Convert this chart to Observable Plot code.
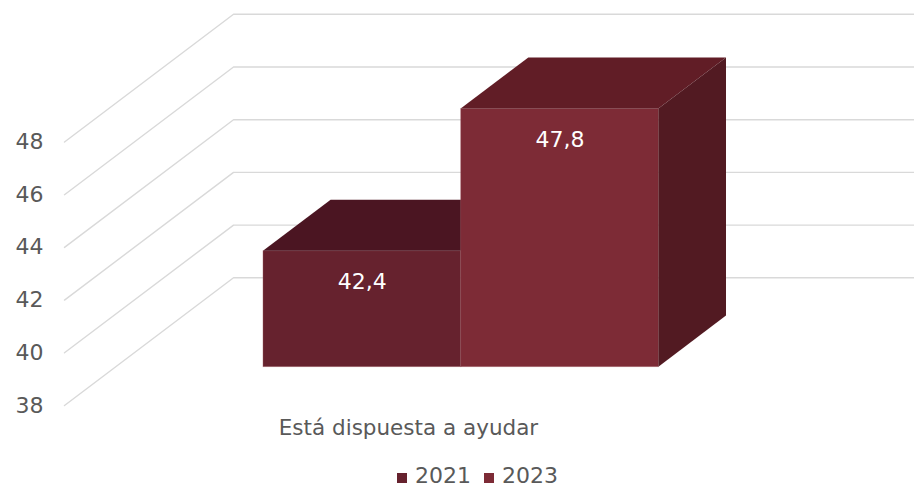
<!DOCTYPE html>
<html><head><meta charset="utf-8">
<script src="https://cdn.jsdelivr.net/npm/d3@7"></script>
<script src="https://cdn.jsdelivr.net/npm/@observablehq/plot@0.6"></script>
<style>
html,body{margin:0;padding:0;background:#fff;overflow:hidden;width:914px;height:489px;position:relative}
#legend{position:absolute;top:463px;left:397px;display:flex;font:22px "DejaVu Sans";color:#595959;line-height:25px;white-space:nowrap}
.item{display:flex;align-items:baseline;margin-right:13px}
.sw{display:inline-block;width:10px;height:10px;margin-right:8px}
</style></head><body><div id="chart"></div><div id="legend"></div>
<script>
// ---- data ----
const categories = ["Está dispuesta a ayudar"];
const years = ["2021", "2023"];
const values = [42.4, 47.8];
const yTicks = [38, 40, 42, 44, 46, 48];

// ---- styles ----
const frontColors = ["#66222e", "#7d2b36"];
const topColors = ["#4b1522", "#611d26"];
const sideColors = ["#4a1520", "#521a22"];
const edgeColor = "#a7656d";
const gridColor = "#d9d9d9";
const textColor = "#595959";
const FONT = "DejaVu Sans";

// ---- 3D projection parameters (in scale units) ----
const YMIN = 38;
const GAP = 0.75;           // gap each side of the category, in bar widths
const DEPTH_X = 0.855;      // x shift for full depth
const DEPTH_Y = 4.846;      // y shift for full depth
const Z0 = 0.3, Z1 = 0.7;   // bar front / back depth
const W = 914, H = 467, ML = 64, MB = 62;
const UNIT = 197.7, PXV = 26.35;
const XMAX = (W - ML) / UNIT;
const YMAX = YMIN + (H - MB) / PXV;

const fmt = v => v.toFixed(1).replace(".", ",");
const bars = years.map((yr, i) => ({year: yr, value: values[i], xl: GAP + i, xr: GAP + i + 1, i}));

const gridPts = yTicks.flatMap(t => [
  {tick: t, x: 0, y: t},
  {tick: t, x: DEPTH_X, y: t + DEPTH_Y},
  {tick: t, x: XMAX, y: t + DEPTH_Y}
]);

const edge = {stroke: edgeColor, strokeWidth: 0.8, strokeOpacity: 0.45};
const marks = [
  Plot.line(gridPts, {x: "x", y: "y", z: "tick", stroke: gridColor, strokeWidth: 1.4})
];
for (const b of bars) {
  marks.push(Plot.rect([b], {
    x1: d => d.xl + Z0 * DEPTH_X, x2: d => d.xr + Z0 * DEPTH_X,
    y1: d => YMIN + Z0 * DEPTH_Y, y2: d => d.value + Z0 * DEPTH_Y,
    fill: frontColors[b.i], ...edge
  }));
  marks.push(Plot.areaX([Z0, Z1].map(z => ({y: b.value + z * DEPTH_Y, x1: b.xl + z * DEPTH_X, x2: b.xr + z * DEPTH_X})),
    {y: "y", x1: "x1", x2: "x2", fill: topColors[b.i]}));
  marks.push(Plot.areaY([Z0, Z1].map(z => ({x: b.xr + z * DEPTH_X, y1: YMIN + z * DEPTH_Y, y2: b.value + z * DEPTH_Y})),
    {x: "x", y1: "y1", y2: "y2", fill: sideColors[b.i]}));
}
marks.push(Plot.text(bars, {
  x: d => (d.xl + d.xr) / 2 + Z0 * DEPTH_X, y: d => d.value + Z0 * DEPTH_Y,
  text: d => fmt(d.value), dy: 31, fill: "white", fontSize: 22
}));
marks.push(Plot.text(categories, {
  x: () => GAP + years.length / 2, y: () => YMIN, text: d => d,
  dy: 23, dx: -2, fill: textColor, fontSize: 21.5
}));
marks.push(Plot.axisY(yTicks, {tickSize: 0, tickPadding: 21, fontSize: 22, color: textColor, label: null, tickFormat: d => String(d)}));

const chart = Plot.plot({
  width: W, height: H,
  marginLeft: ML, marginRight: 0, marginTop: 0, marginBottom: MB,
  style: {fontFamily: FONT, background: "white"},
  x: {domain: [0, XMAX], axis: null},
  y: {domain: [YMIN, YMAX], axis: null},
  marks
});
document.getElementById("chart").appendChild(chart);

const legend = document.getElementById("legend");
years.forEach((yr, i) => {
  const it = document.createElement("div");
  it.className = "item";
  const sw = document.createElement("span");
  sw.className = "sw";
  sw.style.background = frontColors[i];
  it.appendChild(sw);
  it.appendChild(document.createTextNode(yr));
  legend.appendChild(it);
});
</script></body></html>
